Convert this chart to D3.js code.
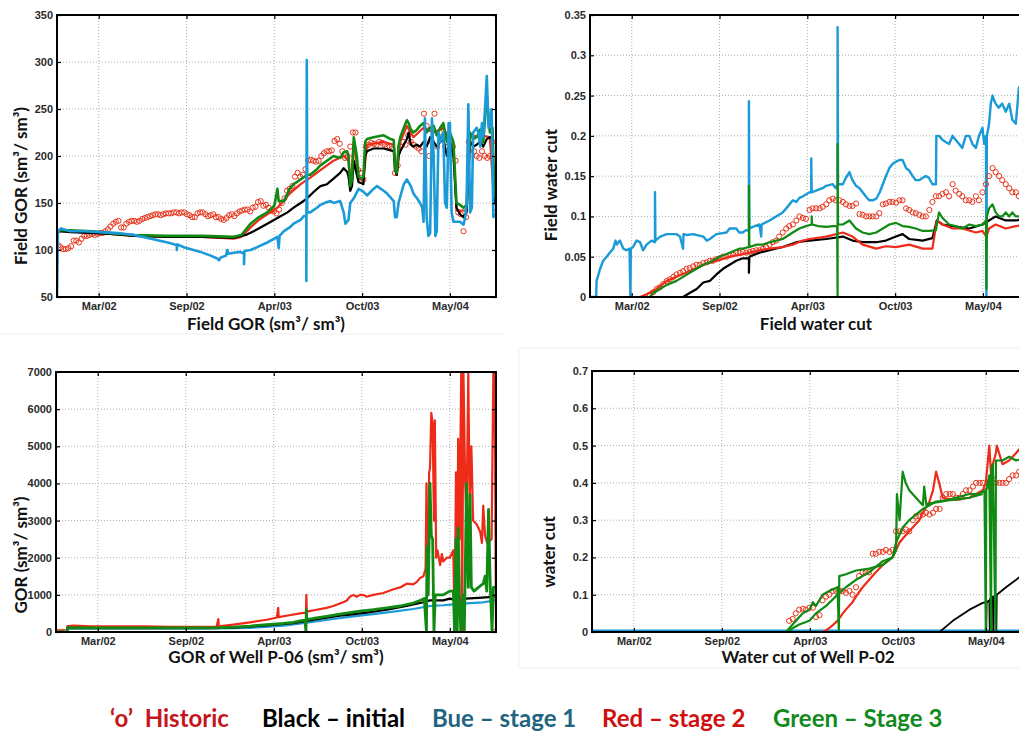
<!DOCTYPE html>
<html>
<head>
<meta charset="utf-8">
<script src="https://cdnjs.cloudflare.com/ajax/libs/d3/7.8.5/d3.min.js"></script>
<style>
body { margin: 0; background: #fff; }
svg { display: block; }
.tick text { font-family: "Liberation Sans", Arial, sans-serif; font-weight: bold; font-size: 11px; fill: #2a2a2a; }
.title { font-family: Lato, "Open Sans", sans-serif; font-weight: bold; fill: #111; }
.grid line { stroke: #9a9a9a; stroke-width: 0.8; stroke-dasharray: 1,2; }
</style>
</head>
<body>
<script>
var t0 = new Date(2001, 10, 26);
var dayMax = 1000;
var tickDays = [95, 295, 495, 695, 895];   // Mar/02, Sep/02, Apr/03, Oct/03, May/04

// ---- Field GOR ----
var gorYTicks = [50, 100, 150, 200, 250, 300, 350];
var gorHistoric = [[3,105],[8,103],[14,101],[20,101],[26,102],[32,104],[38,110],[44,110],[50,108],[56,112],[62,115],[68,115],[74,116],[80,117],[86,116],[92,117],[98,118],[104,118],[110,120],[116,122],[122,125],[128,128],[134,130],[140,131],[146,124],[152,124],[158,128],[164,130],[170,131],[176,131],[182,130],[188,131],[194,133],[200,134],[206,135],[212,136],[218,137],[224,138],[230,138],[236,137],[242,138],[248,139],[254,139],[260,139],[266,140],[272,140],[278,139],[284,140],[290,140],[296,138],[302,137],[308,135],[314,135],[320,139],[326,140],[332,140],[338,138],[344,136],[350,137],[356,138],[362,135],[368,135],[374,133],[380,132],[386,134],[392,137],[398,138],[404,136],[410,139],[416,141],[422,142],[428,143],[434,143],[440,141],[446,145],[452,146],[458,151],[464,152],[470,147],[476,148],[482,145],[488,142],[494,141],[500,139],[506,143],[512,150],[518,155],[524,163],[530,165],[536,168],[542,178],[548,182],[554,178],[560,180],[566,186],[572,195],[578,196],[584,195],[590,194],[596,195],[602,200],[608,203],[614,205],[620,205],[626,206],[632,216],[638,218],[644,213],[650,205],[656,198],[662,200],[668,210],[674,225],[680,225],[686,185],[692,182],[698,175],[704,210],[710,212],[716,214],[722,213],[728,212],[734,215],[740,214],[746,212],[752,210],[758,210],[764,208],[770,182],[776,190],[782,210],[788,215],[794,212],[800,222],[806,215],[812,212],[818,210],[824,208],[830,205],[836,245],[842,232],[848,200],[854,215],[860,245],[866,210],[872,225],[878,218],[884,210],[890,205],[896,202],[902,210],[908,195],[914,140],[920,138],[926,120],[932,135],[938,215],[944,210],[950,205],[956,200],[962,198],[968,205],[974,200],[980,198],[986,200],[992,215],[998,140]];
var gorInitial = [[0,118],[5,120],[30,119],[80,118],[120,117],[176,115],[250,114],[330,114],[403,113],[430,116],[448,120],[479,128],[502,134],[525,140],[539,145],[555,150],[570,155],[585,162],[600,168],[615,170],[630,176],[645,182],[653,187],[661,183],[664,178],[668,163],[672,168],[676,195],[683,180],[687,172],[694,171],[698,170],[702,200],[706,205],[721,208],[744,208],[760,206],[767,205],[770,185],[774,180],[778,200],[782,205],[797,218],[801,225],[806,212],[812,210],[820,212],[827,210],[835,215],[842,210],[850,220],[858,215],[865,210],[873,215],[880,218],[888,200],[895,215],[903,200],[910,145],[918,138],[926,135],[933,140],[941,215],[948,210],[956,212],[964,215],[971,210],[979,218],[986,220],[992,218],[996,150],[1000,150]];
var gorStage1 = [[0,50],[2,118],[5,121],[9,123],[30,120],[62,120],[100,119],[138,118],[176,116],[214,112],[252,108],[267,106],[273,105],[273,100],[274,106],[289,103],[327,98],[350,94],[365,91],[369,89],[373,92],[385,94],[388,100],[390,96],[403,97],[418,98],[426,96],[426,85],[427,99],[441,100],[456,103],[479,108],[495,112],[502,114],[505,102],[507,115],[517,120],[530,124],[539,128],[555,132],[562,136],[568,136],[568,67],[569,302],[570,140],[577,140],[592,145],[600,148],[615,151],[623,152],[630,150],[645,152],[653,140],[657,128],[664,132],[668,150],[676,155],[687,165],[698,162],[706,158],[721,165],[729,168],[744,163],[752,160],[767,152],[770,135],[774,135],[778,150],[790,170],[797,175],[806,168],[812,160],[820,155],[827,150],[832,145],[835,130],[838,240],[842,135],[846,115],[850,118],[854,240],[858,200],[862,115],[865,120],[869,225],[873,215],[876,220],[880,225],[884,150],[888,145],[892,235],[895,235],[899,140],[903,130],[910,130],[918,130],[926,127],[930,135],[933,150],[937,255],[941,140],[945,145],[948,225],[956,230],[960,225],[964,210],[968,235],[971,220],[975,250],[979,285],[983,230],[986,235],[990,250],[994,135],[998,138]];
var gorStage2 = [[0,118],[5,120],[30,120],[80,119],[120,117],[176,115],[250,114],[330,114],[403,112],[420,114],[441,124],[460,132],[479,138],[502,145],[530,160],[555,170],[577,177],[600,185],[630,195],[653,200],[664,195],[668,165],[676,215],[687,175],[698,175],[706,212],[744,215],[767,212],[774,180],[782,215],[797,232],[812,220],[835,230],[858,225],[880,230],[903,210],[910,142],[933,142],[941,220],[964,222],[986,220],[996,150],[1000,148]];
var gorStage3 = [[0,120],[5,121],[30,121],[80,120],[120,118],[176,116],[250,115],[330,115],[403,114],[420,116],[441,128],[460,135],[479,140],[495,147],[502,165],[505,152],[517,152],[530,165],[539,170],[555,175],[570,180],[577,180],[592,186],[600,190],[615,195],[630,200],[645,198],[653,204],[661,205],[664,200],[668,168],[672,175],[676,220],[683,200],[687,178],[694,176],[698,178],[702,215],[706,218],[721,220],[744,222],[760,218],[767,217],[770,186],[774,182],[778,210],[782,220],[790,230],[797,238],[801,235],[806,228],[812,225],[820,228],[827,232],[835,235],[842,225],[850,230],[858,232],[865,222],[873,230],[880,235],[888,215],[895,225],[903,215],[910,150],[918,148],[926,145],[933,148],[941,225],[948,218],[956,220],[964,228],[971,215],[979,265],[986,225],[992,230],[996,160],[1000,155]];

// ---- Field water cut ----
var wcYTicks = [0, 0.05, 0.1, 0.15, 0.2, 0.25, 0.3, 0.35];
var wcHistoric = [[136,0.003],[144,0.006],[152,0.01],[159,0.012],[167,0.016],[175,0.02],[182,0.022],[190,0.025],[197,0.028],[205,0.03],[212,0.032],[220,0.035],[227,0.036],[235,0.038],[243,0.04],[250,0.04],[258,0.042],[266,0.043],[273,0.045],[280,0.045],[288,0.047],[295,0.048],[303,0.05],[311,0.05],[318,0.052],[326,0.053],[333,0.055],[341,0.055],[348,0.056],[356,0.055],[364,0.056],[371,0.057],[379,0.058],[386,0.058],[394,0.06],[401,0.062],[409,0.065],[416,0.068],[424,0.07],[431,0.075],[439,0.08],[447,0.085],[454,0.088],[462,0.09],[470,0.095],[477,0.1],[485,0.098],[492,0.097],[500,0.108],[507,0.11],[515,0.11],[523,0.11],[530,0.112],[538,0.115],[545,0.12],[553,0.122],[560,0.12],[568,0.12],[576,0.118],[583,0.115],[591,0.113],[598,0.113],[606,0.116],[614,0.103],[621,0.102],[629,0.1],[636,0.1],[644,0.1],[652,0.1],[659,0.104],[667,0.115],[674,0.116],[682,0.118],[689,0.118],[697,0.117],[705,0.12],[712,0.12],[720,0.11],[727,0.108],[735,0.105],[742,0.104],[750,0.102],[758,0.1],[765,0.1],[773,0.108],[780,0.118],[788,0.125],[795,0.125],[803,0.128],[811,0.13],[818,0.125],[826,0.14],[833,0.132],[841,0.128],[848,0.125],[856,0.12],[864,0.12],[871,0.118],[879,0.125],[886,0.12],[894,0.13],[902,0.14],[909,0.15],[917,0.16],[924,0.155],[932,0.15],[939,0.145],[947,0.14],[955,0.135],[962,0.13],[970,0.13],[977,0.125],[985,0.12],[993,0.12]];
var wcInitial = [[0,0],[212,0],[227,0.005],[243,0.01],[258,0.018],[273,0.02],[288,0.028],[303,0.035],[318,0.04],[333,0.045],[348,0.048],[362,0.048],[362,0.03],[363,0.05],[386,0.055],[409,0.058],[439,0.062],[470,0.068],[500,0.07],[538,0.072],[576,0.075],[598,0.07],[621,0.068],[652,0.068],[674,0.07],[697,0.075],[712,0.078],[727,0.072],[758,0.07],[780,0.073],[790,0.095],[803,0.09],[826,0.088],[864,0.085],[894,0.09],[909,0.095],[924,0.1],[947,0.095],[970,0.095],[1000,0.098]];
var wcStage1 = [[0,0],[14,0],[15,0.02],[23,0.035],[30,0.045],[38,0.05],[45,0.055],[53,0.06],[58,0.07],[61,0.065],[68,0.07],[76,0.06],[83,0.058],[90,0.06],[92,0],[93,0.06],[98,0.062],[106,0.07],[114,0.068],[121,0.058],[129,0.065],[140,0.07],[148,0.068],[148,0.13],[149,0.07],[160,0.075],[175,0.078],[197,0.078],[205,0.075],[212,0.06],[213,0.078],[220,0.077],[235,0.078],[258,0.075],[266,0.07],[273,0.072],[288,0.078],[311,0.08],[318,0.085],[333,0.085],[340,0.08],[348,0.08],[355,0.083],[362,0.082],[362,0.243],[363,0.085],[371,0.087],[386,0.09],[390,0.075],[391,0.09],[409,0.095],[424,0.1],[439,0.105],[447,0.11],[462,0.12],[470,0.118],[477,0.123],[485,0.125],[500,0.13],[504,0.13],[504,0.172],[505,0.13],[515,0.132],[530,0.135],[538,0.138],[553,0.14],[560,0.135],[564,0.14],[564,0.335],[565,0.14],[576,0.14],[583,0.148],[591,0.155],[598,0.145],[606,0.138],[614,0.135],[621,0.13],[628,0.125],[636,0.12],[644,0.12],[652,0.122],[660,0.13],[667,0.14],[674,0.15],[682,0.16],[689,0.165],[697,0.168],[705,0.17],[712,0.17],[720,0.16],[727,0.157],[735,0.15],[742,0.145],[750,0.145],[758,0.148],[765,0.15],[772,0.148],[780,0.14],[788,0.14],[789,0.2],[795,0.2],[803,0.195],[811,0.192],[818,0.19],[826,0.2],[833,0.195],[841,0.19],[848,0.185],[856,0.2],[864,0.2],[871,0.19],[879,0.185],[886,0.2],[894,0.21],[898,0.19],[902,0.2],[903,0],[904,0.2],[909,0.215],[913,0.24],[917,0.25],[920,0.245],[924,0.24],[931,0.235],[939,0.24],[947,0.23],[955,0.24],[962,0.22],[970,0.215],[977,0.26],[985,0.24],[993,0.235],[1000,0.24]];
var wcStage2 = [[0,0],[114,0],[136,0.005],[152,0.01],[175,0.02],[197,0.025],[227,0.032],[258,0.04],[288,0.045],[318,0.05],[348,0.053],[386,0.058],[409,0.06],[439,0.062],[462,0.065],[485,0.07],[500,0.072],[538,0.075],[576,0.08],[598,0.075],[621,0.065],[652,0.06],[674,0.063],[697,0.062],[727,0.065],[758,0.06],[780,0.06],[790,0.095],[803,0.09],[826,0.085],[848,0.085],[879,0.08],[894,0.082],[903,0.075],[909,0.085],[924,0.09],[947,0.085],[970,0.088],[1000,0.09]];
var wcStage3 = [[0,0],[136,0],[144,0.005],[159,0.01],[175,0.015],[197,0.02],[212,0.025],[227,0.03],[243,0.035],[258,0.04],[273,0.043],[295,0.05],[318,0.055],[340,0.06],[348,0.06],[362,0.062],[362,0.138],[363,0.062],[380,0.065],[394,0.065],[409,0.068],[424,0.07],[439,0.072],[462,0.08],[477,0.085],[492,0.088],[505,0.09],[505,0.1],[506,0.09],[520,0.088],[538,0.087],[553,0.088],[563,0.088],[564,0],[564,0.19],[565,0.09],[576,0.09],[591,0.095],[606,0.085],[621,0.08],[636,0.078],[652,0.08],[667,0.085],[682,0.09],[697,0.092],[712,0.088],[727,0.087],[742,0.085],[758,0.082],[773,0.082],[788,0.083],[795,0.105],[803,0.098],[818,0.09],[833,0.088],[848,0.085],[864,0.09],[879,0.088],[894,0.09],[902,0.095],[903,0.01],[904,0.1],[909,0.11],[917,0.115],[924,0.105],[932,0.1],[939,0.1],[947,0.105],[955,0.1],[962,0.105],[970,0.1],[985,0.1],[1000,0.105]];

// ---- GOR of well P-06 ----
var p06YTicks = [0, 1000, 2000, 3000, 4000, 5000, 6000, 7000];
var p06Historic = [[3,0],[8,0],[13,0],[18,0],[997,0]];
var p06Initial = [[0,0],[25,0],[26,110],[176,105],[330,105],[403,120],[479,180],[539,240],[600,360],[653,450],[706,520],[752,600],[797,700],[835,800],[850,850],[880,850],[895,900],[910,850],[930,900],[960,920],[1000,950]];
var p06Stage1 = [[0,0],[25,0],[26,100],[176,95],[365,95],[441,110],[517,170],[570,250],[630,350],[676,420],[721,480],[767,550],[812,620],[850,700],[880,720],[910,750],[941,780],[971,800],[1000,850]];
var p06Stage2 = [[0,0],[25,0],[26,160],[40,170],[80,150],[138,150],[200,150],[260,140],[330,140],[365,140],[369,350],[370,150],[403,200],[441,260],[479,330],[502,390],[505,650],[506,400],[530,450],[555,500],[568,520],[569,1000],[570,550],[592,600],[615,650],[630,700],[653,800],[661,850],[668,950],[676,1000],[683,950],[691,1000],[698,1000],[706,950],[721,1000],[744,1050],[767,1150],[782,1200],[797,1300],[812,1280],[820,1350],[827,1450],[835,1500],[840,1700],[842,4000],[843,1600],[846,1500],[848,4300],[850,4400],[853,5900],[856,5600],[859,3000],[861,5700],[864,2000],[867,2200],[873,1800],[877,2100],[880,1900],[888,2000],[895,2000],[899,2100],[903,2200],[906,0],[909,4300],[912,1500],[914,5200],[917,2500],[921,7000],[923,0],[926,7000],[930,4000],[933,3000],[937,7000],[940,3500],[944,5000],[948,3000],[956,2900],[964,2700],[968,2400],[971,3400],[975,2600],[980,2400],[990,2500],[994,7000],[997,7000],[1000,0]];
var p06Stage3 = [[0,0],[25,0],[26,120],[80,110],[176,110],[250,110],[330,110],[365,110],[403,130],[441,160],[479,200],[517,230],[539,260],[555,300],[566,320],[568,0],[569,600],[570,330],[592,380],[615,420],[645,480],[668,520],[691,560],[721,600],[752,650],[782,700],[812,780],[827,850],[837,900],[842,0],[843,2300],[846,1000],[850,4000],[853,2600],[856,2500],[859,0],[862,1000],[866,1000],[880,1000],[895,1100],[903,1100],[906,0],[909,2500],[912,0],[914,2800],[917,1000],[920,0],[926,1000],[928,0],[933,4000],[937,1200],[941,3700],[944,1200],[950,1100],[960,1200],[971,1300],[975,1500],[979,1100],[983,3300],[987,1200],[991,0],[994,1200],[1000,1200]];

// ---- Water cut of well P-02 ----
var p02YTicks = [0, 0.1, 0.2, 0.3, 0.4, 0.5, 0.6, 0.7];
var p02Historic = [[448,0.03],[456,0.035],[463,0.05],[471,0.06],[479,0.062],[486,0.06],[494,0.065],[502,0.065],[509,0.04],[517,0.045],[524,0.085],[532,0.095],[539,0.1],[547,0.11],[555,0.11],[562,0.11],[570,0.11],[577,0.105],[585,0.11],[592,0.1],[600,0.12],[607,0.15],[615,0.16],[622,0.16],[630,0.16],[638,0.21],[645,0.21],[653,0.215],[661,0.215],[668,0.22],[676,0.215],[683,0.22],[691,0.27],[699,0.27],[706,0.27],[713,0.275],[721,0.27],[729,0.3],[736,0.31],[744,0.31],[752,0.315],[759,0.32],[767,0.315],[775,0.32],[782,0.33],[790,0.33],[797,0.36],[805,0.37],[813,0.37],[820,0.37],[828,0.36],[835,0.36],[843,0.37],[850,0.38],[858,0.38],[866,0.39],[873,0.4],[881,0.4],[888,0.4],[896,0.39],[903,0.4],[911,0.41],[918,0.4],[926,0.4],[933,0.4],[941,0.4],[948,0.41],[956,0.42],[964,0.42],[971,0.43],[979,0.42],[986,0.43],[994,0.43]];
var p02Initial = [[0,0],[790,0],[820,0.03],[858,0.06],[888,0.078],[895,0.08],[896,0],[897,0.08],[903,0.085],[904,0],[905,0.09],[911,0.095],[912,0],[913,0.095],[918,0.1],[919,0],[920,0.1],[941,0.12],[964,0.14],[994,0.17],[1000,0.18]];
var p02Stage1 = [[0,0.004],[1000,0.004]];
var p02Stage2 = [[0,0],[441,0],[524,0],[532,0.005],[539,0.01],[558,0.03],[570,0.05],[577,0.06],[592,0.08],[600,0.095],[615,0.12],[630,0.14],[645,0.16],[661,0.18],[683,0.2],[691,0.22],[699,0.24],[706,0.25],[721,0.27],[744,0.3],[752,0.32],[767,0.35],[775,0.38],[782,0.43],[789,0.4],[797,0.36],[820,0.355],[858,0.36],[888,0.38],[895,0.4],[903,0.5],[907,0.42],[911,0.45],[918,0.48],[920,0.5],[933,0.45],[948,0.46],[964,0.48],[971,0.49],[994,0.5],[1000,0.5]];
var p02Stage3 = [[0,0],[441,0],[456,0.02],[479,0.05],[494,0.06],[502,0.08],[509,0.07],[524,0.1],[539,0.11],[558,0.12],[561,0],[562,0.15],[577,0.155],[600,0.165],[630,0.17],[661,0.18],[683,0.2],[691,0.22],[693,0.37],[699,0.3],[706,0.43],[713,0.4],[721,0.38],[744,0.35],[752,0.34],[755,0.39],[760,0.34],[767,0.345],[797,0.35],[826,0.36],[858,0.37],[880,0.37],[892,0.38],[895,0],[896,0.38],[903,0.42],[907,0],[908,0.44],[911,0.45],[917,0],[918,0.46],[933,0.46],[948,0.47],[964,0.46],[994,0.47],[1000,0.47]];
var p02Stage3b = [[441,0],[471,0.02],[494,0.03],[509,0.05],[532,0.07],[558,0.1],[577,0.12],[600,0.14],[630,0.16],[661,0.19],[683,0.2],[691,0.24],[706,0.28],[721,0.3],[752,0.33],[782,0.35],[826,0.355],[858,0.36],[888,0.37]];

var legendItems = [
  {text: "\u2018o\u2019  Historic", color: "#c4161c", x: 110},
  {text: "Black \u2013 initial", color: "#000000", x: 262},
  {text: "Bue \u2013 stage 1", color: "#1f6580", x: 432},
  {text: "Red \u2013 stage 2", color: "#cf1010", x: 602},
  {text: "Green \u2013 Stage 3", color: "#128a1e", x: 773}
];

var BLUE = "#1b9ad8", RED = "#ee2b18", GREEN = "#118a14", BLACK = "#000", HIST = "#e8341c";

function dayToDate(d) { return new Date(t0.getTime() + d * 864e5); }

var svg = d3.select("body").append("svg")
  .attr("width", 1019)
  .attr("height", 731);

// faint edges of the pasted screenshots
svg.append("line").attr("x1", 0).attr("x2", 505).attr("y1", 334).attr("y2", 334)
  .attr("stroke", "#ededed");
svg.append("rect").attr("x", 519).attr("y", 348).attr("width", 520).attr("height", 320)
  .attr("fill", "none").attr("stroke", "#efefef");

function make_panel(cfg, idx) {
  var g = svg.append("g").attr("transform", "translate(" + cfg.left + "," + cfg.top + ")");

  var x = d3.scaleTime().domain([dayToDate(0), dayToDate(dayMax)]).range([0, cfg.width]);
  var y = d3.scaleLinear().domain(cfg.yDomain).range([cfg.height, 0]);

  g.append("defs").append("clipPath").attr("id", "clip" + idx)
    .append("rect").attr("width", cfg.width).attr("height", cfg.height);

  var tickDates = tickDays.map(dayToDate);

  // grid
  g.append("g").attr("class", "grid")
    .selectAll("line.gx").data(tickDates).enter().append("line")
    .attr("x1", function(d) { return x(d); }).attr("x2", function(d) { return x(d); })
    .attr("y1", 0).attr("y2", cfg.height);
  g.append("g").attr("class", "grid")
    .selectAll("line.gy").data(cfg.yTicks.slice(1, -1)).enter().append("line")
    .attr("x1", 0).attr("x2", cfg.width)
    .attr("y1", function(d) { return y(d); }).attr("y2", function(d) { return y(d); });

  var line = d3.line()
    .x(function(d) { return x(dayToDate(d[0])); })
    .y(function(d) { return y(d[1]); });

  var plot = g.append("g").attr("clip-path", "url(#clip" + idx + ")");
  cfg.series.forEach(function(s) {
    if (s.hist) {
      plot.append("g").selectAll("circle").data(s.data).enter().append("circle")
        .attr("cx", function(d) { return x(dayToDate(d[0])); })
        .attr("cy", function(d) { return y(d[1]); })
        .attr("r", 2.6)
        .attr("fill", "none")
        .attr("stroke", HIST)
        .attr("stroke-width", 1);
    } else {
      plot.append("path").datum(s.data)
        .attr("d", line)
        .attr("fill", "none")
        .attr("stroke", s.color)
        .attr("stroke-width", s.w || 2.2)
        .attr("stroke-linejoin", "round");
    }
  });

  // axes, ticks pointing inward
  var xb = g.append("g").attr("transform", "translate(0," + cfg.height + ")")
    .call(d3.axisBottom(x).tickValues(tickDates).tickFormat(d3.timeFormat("%b/%y"))
      .tickSize(-4).tickPadding(5));
  g.append("g").call(d3.axisTop(x).tickValues(tickDates).tickFormat("").tickSize(-4));
  g.append("g").call(d3.axisLeft(y).tickValues(cfg.yTicks).tickFormat(cfg.yFormat)
    .tickSize(-4).tickPadding(4));
  g.append("g").attr("transform", "translate(" + cfg.width + ",0)")
    .call(d3.axisRight(y).tickValues(cfg.yTicks).tickFormat("").tickSize(-4));
  g.selectAll(".domain").remove();
  g.selectAll(".tick line").attr("stroke", "#000").attr("stroke-width", 1.2);
  xb.selectAll("text").attr("dy", "0.75em");

  g.append("rect").attr("width", cfg.width).attr("height", cfg.height)
    .attr("fill", "none").attr("stroke", "#000").attr("stroke-width", 2);

  svg.append("text").attr("class", "title")
    .attr("x", cfg.xlab[0]).attr("y", cfg.xlab[1])
    .attr("text-anchor", "middle").attr("font-size", "17px")
    .text(cfg.xlabel);
  svg.append("text").attr("class", "title")
    .attr("transform", "translate(" + cfg.ylab[0] + "," + cfg.ylab[1] + ") rotate(-90)")
    .attr("text-anchor", "middle").attr("font-size", "17px")
    .text(cfg.ylabel);
}

var panels = [
  {left: 57, top: 15, width: 439, height: 282, yDomain: [50, 350], yTicks: gorYTicks,
   yFormat: d3.format("d"),
   xlabel: "Field GOR (sm\u00b3/ sm\u00b3)", xlab: [266, 330],
   ylabel: "Field GOR (sm\u00b3/ sm\u00b3)", ylab: [27, 186],
   series: [{hist: true, data: gorHistoric}, {data: gorStage2, color: RED}, {data: gorInitial, color: BLACK},
            {data: gorStage3, color: GREEN, w: 2.6}, {data: gorStage1, color: BLUE, w: 2.6}]},
  {left: 590, top: 15, width: 439, height: 282, yDomain: [0, 0.35], yTicks: wcYTicks,
   yFormat: function(d) { return d === 0 ? "0" : d3.format("")(+d.toFixed(2)); },
   xlabel: "Field  water cut", xlab: [816, 330],
   ylabel: "Field water cut", ylab: [557, 185],
   series: [{data: wcStage1, color: BLUE, w: 2.4}, {hist: true, data: wcHistoric}, {data: wcInitial, color: BLACK},
            {data: wcStage2, color: RED}, {data: wcStage3, color: GREEN}]},
  {left: 56, top: 372, width: 440, height: 260, yDomain: [0, 7000], yTicks: p06YTicks,
   yFormat: d3.format("d"),
   xlabel: "GOR of Well P-06 (sm\u00b3/ sm\u00b3)", xlab: [276, 663],
   ylabel: "GOR (sm\u00b3/ sm\u00b3)", ylab: [27, 555],
   series: [{hist: true, data: p06Historic}, {data: p06Stage1, color: BLUE}, {data: p06Initial, color: BLACK},
            {data: p06Stage2, color: RED}, {data: p06Stage3, color: GREEN, w: 2.8}]},
  {left: 592, top: 371, width: 440, height: 261, yDomain: [0, 0.7], yTicks: p02YTicks,
   yFormat: function(d) { return d === 0 ? "0" : d3.format("")(+d.toFixed(1)); },
   xlabel: "Water cut of Well P-02", xlab: [808, 663],
   ylabel: "water cut", ylab: [555, 552],
   series: [{data: p02Stage1, color: BLUE}, {data: p02Initial, color: BLACK, w: 1.8},
            {data: p02Stage2, color: RED}, {hist: true, data: p02Historic},
            {data: p02Stage3b, color: GREEN}, {data: p02Stage3, color: GREEN}]}
];

panels.forEach(make_panel);

// legend line at the bottom
legendItems.forEach(function(d) {
  svg.append("text").attr("class", "title")
    .attr("x", d.x).attr("y", 727)
    .attr("font-size", "24px")
    .style("fill", d.color)
    .attr("xml:space", "preserve")
    .text(d.text);
});
</script>
</body>
</html>
